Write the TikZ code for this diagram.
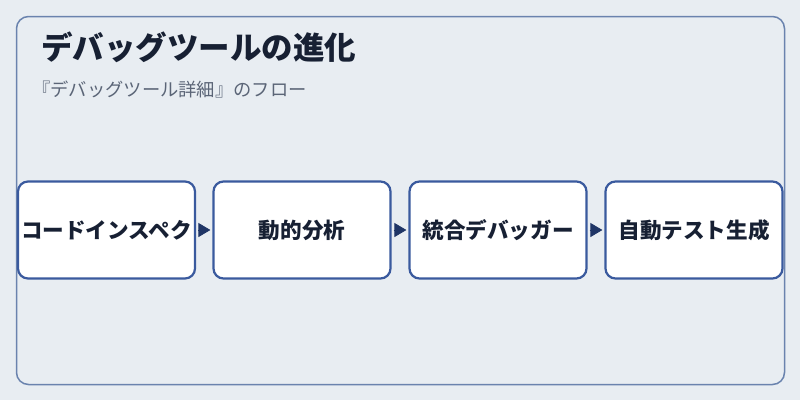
\documentclass[tikz,border=0pt]{standalone}
\usepackage{fontspec}
\setmainfont{Noto Sans CJK JP}
\usetikzlibrary{arrows.meta}
\definecolor{bgc}{HTML}{E8EDF2}
\definecolor{framec}{HTML}{6A83AE}
\definecolor{boxc}{HTML}{3A5A9E}
\definecolor{arrowc}{HTML}{1F3566}
\definecolor{titlec}{HTML}{172033}
\definecolor{subc}{HTML}{5B6577}
\tikzset{
  stepbox/.style={draw=boxc, line width=2.2pt, fill=white, rounded corners=10pt,
    minimum width=177pt, minimum height=97pt, inner sep=0pt,
    font=\fontsize{21.6}{24}\selectfont\bfseries, text=titlec},
  flow/.style={arrowc, line width=0.8pt, shorten <=2pt, shorten >=2pt,
    -{Triangle[length=12pt,width=14pt]}},
}
\begin{document}
\begin{tikzpicture}[x=1pt,y=-1pt]
\fill[bgc] (0,0) rectangle (800,400);
\useasboundingbox (0,0) rectangle (800,400);
\draw[framec, line width=1.5pt, rounded corners=12pt] (16.5,16.5) rectangle (784.5,384.5);
\node[anchor=base west, font=\fontsize{31.5}{36}\selectfont\bfseries, text=titlec, inner sep=0pt] (title) at (41,59) {デバッグツールの進化};
\node[anchor=base west, font=\fontsize{18.3}{22}\selectfont, text=subc, inner sep=0pt] (sub) at (32,96) {『デバッグツール詳細』のフロー};
\node[stepbox] (b1) at (106.5,230) {コードインスペク};
\node[stepbox] (b2) at (302,230) {動的分析};
\node[stepbox] (b3) at (498,230) {統合デバッガー};
\node[stepbox] (b4) at (694,230) {自動テスト生成};
\draw[flow] (b1.east) -- (b2.west);
\draw[flow] (b2.east) -- (b3.west);
\draw[flow] (b3.east) -- (b4.west);
\end{tikzpicture}
\end{document}
